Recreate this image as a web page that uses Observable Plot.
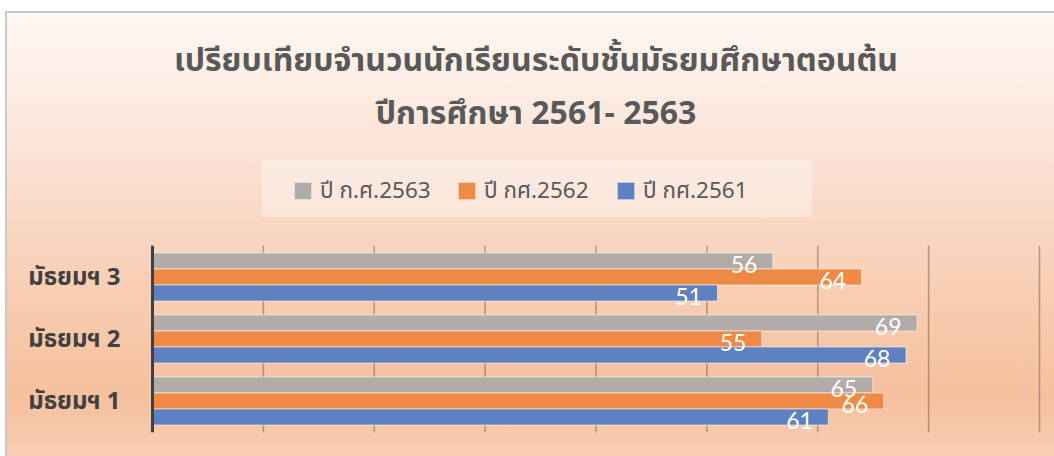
<!DOCTYPE html>
<html>
<head>
<meta charset="utf-8">
<script src="https://cdn.jsdelivr.net/npm/d3@7"></script>
<script src="https://cdn.jsdelivr.net/npm/@observablehq/plot@0.6"></script>
<style>
  html, body { margin: 0; padding: 0; width: 1054px; height: 456px; overflow: hidden; background: #ffffff; }
  #frame {
    position: absolute; left: 5px; top: 11px; width: 1060px; height: 450px;
    border-left: 2px solid #c9c9c9; border-top: 2px solid #c9c9c9;
    background: linear-gradient(to bottom, #fff7f3 0%, #fdeee6 15%, #fbe2d5 32%, #f9d5bf 50%, #f7c8a9 72%, #f5c09e 85%, #f8cfb5 100%);
  }
  #title {
    position: absolute; left: 0; top: 35px; width: 1072px; text-align: center;
    font-family: "Noto Sans Thai", "Noto Sans", sans-serif; font-weight: bold; font-size: 32px;
    color: #595959; line-height: 53px;
  }
  #legend {
    position: absolute; left: 262px; top: 160px; width: 550px; height: 57px;
    background: rgba(255,255,255,0.35);
    font-family: "Noto Sans Thai", "Noto Sans", sans-serif; font-size: 22.5px; color: #595959;
  }
  .item { position: absolute; top: 2px; height: 57px; display: flex; align-items: center; }
  .sw { width: 16px; height: 16px; margin-right: 8px; border: 1px solid rgba(255,255,255,0.6); }
  #chart { position: absolute; left: 0; top: 232px; }
</style>
</head>
<body>
<div id="frame"></div>
<div id="title">เปรียบเทียบจำนวนนักเรียนระดับชั้นมัธยมศึกษาตอนต้น<br>ปีการศึกษา 2561- 2563</div>
<div id="legend"></div>
<div id="chart"></div>
<script>
const categories = ["มัธยมฯ 3", "มัธยมฯ 2", "มัธยมฯ 1"];
const seriesNames = ["ปี ก.ศ.2563", "ปี กศ.2562", "ปี กศ.2561"];
const values2563 = [56, 69, 65];
const values2562 = [64, 55, 66];
const values2561 = [51, 68, 61];
const seriesColors = ["#b1aca7", "#ef8a46", "#5f80c1"];
const xTicks = [0, 10, 20, 30, 40, 50, 60, 70, 80];

const seriesValues = [values2563, values2562, values2561];
const data = [];
categories.forEach((c, i) => {
  seriesNames.forEach((s, j) => data.push({category: c, series: s, value: seriesValues[j][i]}));
});

// legend
const legend = document.getElementById("legend");
const legendX = [32, 196, 355];
seriesNames.forEach((s, j) => {
  const it = document.createElement("div");
  it.className = "item";
  it.style.left = legendX[j] + "px";
  it.innerHTML = `<div class="sw" style="background:${seriesColors[j]}"></div><span>${s}</span>`;
  legend.appendChild(it);
});

const plot = Plot.plot({
  width: 1054,
  height: 224,
  marginTop: 14,
  marginBottom: 24,
  marginLeft: 152,
  marginRight: 15,
  style: {background: "transparent", overflow: "visible"},
  x: {domain: [0, 80], axis: null},
  y: {domain: seriesNames, axis: null, padding: 0.03},
  fy: {domain: categories, paddingInner: 0.2, paddingOuter: 0.1, axis: null, label: null},
  color: {domain: seriesNames, range: seriesColors},
  marks: [
    Plot.ruleX(xTicks.slice(1), {stroke: "#7a6458", strokeOpacity: 0.55, strokeWidth: 1.5, insetTop: -6.3, insetBottom: -6.3}),
    Plot.barX(data, {fy: "category", y: "series", x: "value", fill: "series", stroke: "#ffffff", strokeOpacity: 0.55, strokeWidth: 1}),
    Plot.ruleX([0], {stroke: "#404040", strokeWidth: 3, insetTop: -6.3, insetBottom: -6.3}),
    Plot.text(data, {fy: "category", y: "series", x: "value", text: "value", textAnchor: "end", dx: -16, dy: 4, fill: "#ffffff", fontSize: 23, fontFamily: "Lato, 'Open Sans', sans-serif"}),
    Plot.axisFy({anchor: "left", tickSize: 0, tickPadding: 32, label: null, fontSize: 24, fontWeight: "bold", fill: "#404040", fontFamily: "'Noto Sans Thai', 'Noto Sans', sans-serif"})
  ]
});
document.getElementById("chart").appendChild(plot);
</script>
</body>
</html>
